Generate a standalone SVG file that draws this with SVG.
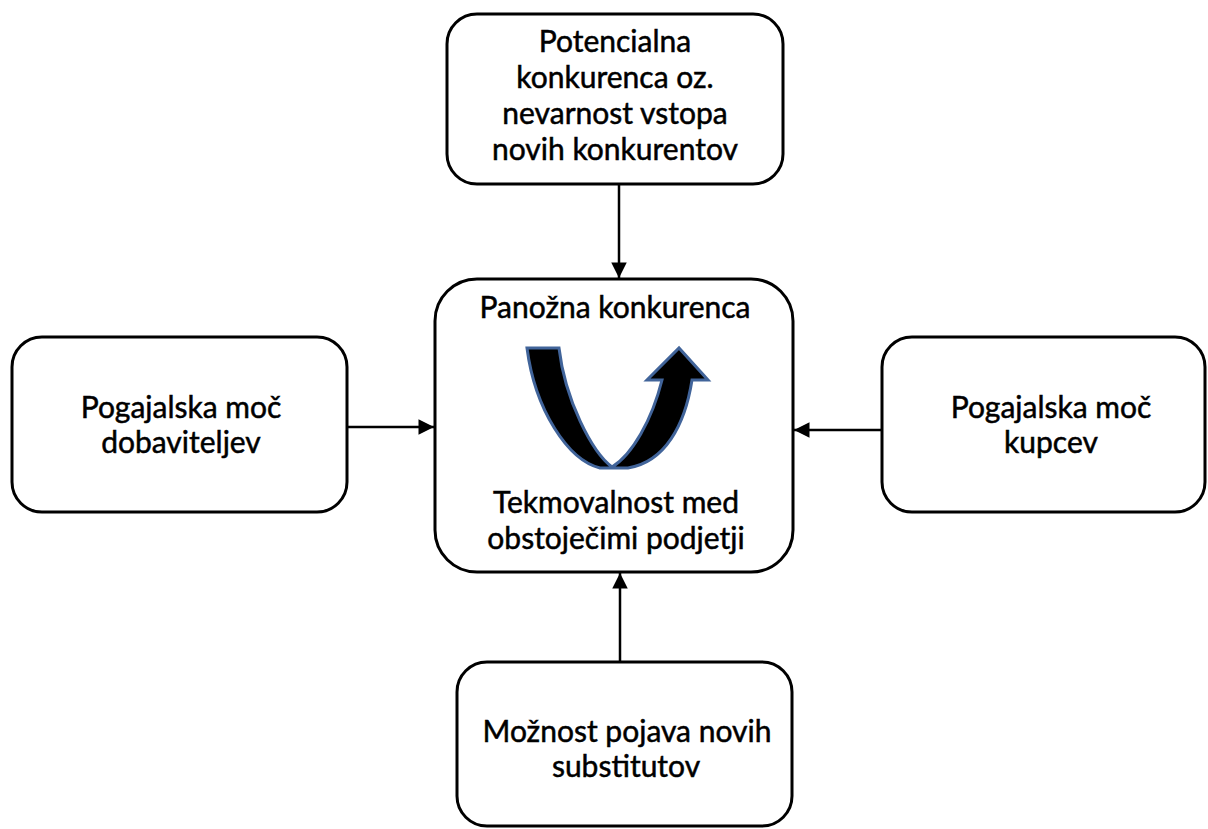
<svg xmlns="http://www.w3.org/2000/svg" width="1208" height="829" viewBox="0 0 1208 829">
  <defs>
    <style>
      .box { fill: #ffffff; stroke: #000000; stroke-width: 3; }
      .lbl { font-family: Lato, "Open Sans", "DejaVu Sans", sans-serif; font-size: 30px; fill: #000000; stroke: #000000; stroke-width: 0.5; text-anchor: middle; }
      .conn { stroke: #000000; stroke-width: 2.5; fill: none; }
      .curl { fill: #000000; stroke: #41649a; stroke-width: 3; stroke-linejoin: miter; }
    </style>
    <marker id="arr" viewBox="0 0 10 10" refX="10" refY="5" markerWidth="6.8" markerHeight="6.2" orient="auto" markerUnits="strokeWidth">
      <path d="M0,0 L10,5 L0,10 Z" fill="#000000"/>
    </marker>
  </defs>
  <rect width="1208" height="829" fill="#ffffff"/>

  <g id="connectors">
    <line class="conn" x1="619" y1="185" x2="619" y2="278" marker-end="url(#arr)"/>
    <line class="conn" x1="347" y1="427" x2="434" y2="427" marker-end="url(#arr)"/>
    <line class="conn" x1="882" y1="430" x2="794" y2="430" marker-end="url(#arr)"/>
    <line class="conn" x1="620" y1="662" x2="620" y2="573" marker-end="url(#arr)"/>
  </g>

  <g id="node-top">
    <rect class="box" x="447" y="14" width="336" height="170" rx="30"/>
    <text class="lbl" x="615" y="52">Potencialna</text>
    <text class="lbl" x="615" y="88">konkurenca oz.</text>
    <text class="lbl" x="615" y="124">nevarnost vstopa</text>
    <text class="lbl" x="615" y="160">novih konkurentov</text>
  </g>

  <g id="node-center">
    <rect class="box" x="435" y="279" width="358" height="293" rx="42"/>
    <text class="lbl" x="615" y="318">Panožna konkurenca</text>
    <path class="curl" d="M527,348 L559,348 C565,400 592,452 612,467 C632,455 652,420 662,380 L647,380 L679,348 L708,380 L692,380 C685,425 665,462 628,468 L600,468 C568,460 535,410 527,348 Z"/>
    <text class="lbl" x="616" y="513">Tekmovalnost med</text>
    <text class="lbl" x="616" y="549">obstoječimi podjetji</text>
  </g>

  <g id="node-left">
    <rect class="box" x="12" y="337" width="335" height="175" rx="30"/>
    <text class="lbl" x="181" y="418">Pogajalska moč</text>
    <text class="lbl" x="181" y="453">dobaviteljev</text>
  </g>

  <g id="node-right">
    <rect class="box" x="882" y="337" width="323" height="175" rx="30"/>
    <text class="lbl" x="1051" y="418">Pogajalska moč</text>
    <text class="lbl" x="1051" y="453">kupcev</text>
  </g>

  <g id="node-bottom">
    <rect class="box" x="457" y="662" width="335" height="164" rx="30"/>
    <text class="lbl" x="627" y="742">Možnost pojava novih</text>
    <text class="lbl" x="626" y="777">substitutov</text>
  </g>
</svg>
